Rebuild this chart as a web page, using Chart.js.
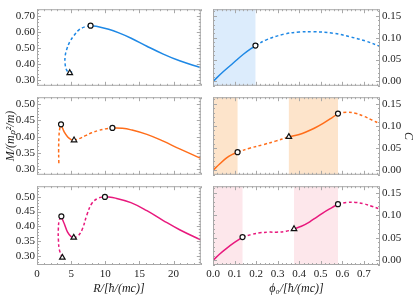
<!DOCTYPE html>
<html>
<head>
<meta charset="utf-8">
<script src="https://cdn.jsdelivr.net/npm/chart.js@4"></script>
<style>
  body { margin: 0; background: #fff; width: 418px; height: 299px; overflow: hidden; position: relative; }
  canvas { position: absolute; }
</style>
</head>
<body>
<canvas id="cA" width="206" height="87" style="left:0;top:4px"></canvas>
<canvas id="cB" width="212" height="87" style="left:206px;top:4px"></canvas>
<canvas id="cC" width="206" height="88" style="left:0;top:92px"></canvas>
<canvas id="cD" width="212" height="88" style="left:206px;top:92px"></canvas>
<canvas id="cE" width="206" height="118" style="left:0;top:181px"></canvas>
<canvas id="cF" width="212" height="118" style="left:206px;top:181px"></canvas>
<script>
// tick labels
const rTicks = [0, 5, 10, 15, 20];
const phiTicks = [0, 0.1, 0.2, 0.3, 0.4, 0.5, 0.6, 0.7];
const mTicksTop = [0.30, 0.40, 0.50, 0.60, 0.70];
const mTicks = [0.30, 0.35, 0.40, 0.45, 0.50];
const cTicks = [0, 0.05, 0.10, 0.15];

// top row (blue) - mass vs radius
const aDashR = [5.15, 4.8, 4.35, 4.12, 4.12, 4.35, 4.8, 5.45, 6.15, 7.0, 7.85];
const aDashM = [0.352, 0.344, 0.362, 0.400, 0.447, 0.490, 0.538, 0.579, 0.613, 0.632, 0.639];
const aSolidR = [7.85, 9.0, 10.5, 12.0, 13.8, 16.1, 18.5, 20.9, 24];
const aSolidM = [0.639, 0.633, 0.617, 0.594, 0.561, 0.511, 0.462, 0.420, 0.377];
const aCircR = [7.85], aCircM = [0.639];
const aTriR = [4.8], aTriM = [0.344];

// top row (blue) - compactness vs phi0
const bShade = [[0, 0.197]];
const bSolidP = [0, 0.047, 0.094, 0.141, 0.197];
const bSolidC = [0, 0.022, 0.042, 0.062, 0.082];
const bDashP = [0.197, 0.25, 0.33, 0.40, 0.464, 0.56, 0.635, 0.71, 0.775];
const bDashC = [0.082, 0.0955, 0.108, 0.1128, 0.1135, 0.110, 0.102, 0.092, 0.080];
const bCircP = [0.197], bCircC = [0.082];

// middle row (orange) - mass vs radius
const cDash1R = [3.2, 3.17, 3.22, 3.33, 3.52];
const cDash1M = [0.318, 0.36, 0.40, 0.425, 0.438];
const cSolid1R = [3.52, 3.75, 4.0, 4.5, 5.0, 5.43];
const cSolid1M = [0.438, 0.426, 0.414, 0.399, 0.391, 0.389];
const cDash2R = [5.43, 6.2, 7.1, 8.0, 9.0, 10.0, 11.05];
const cDash2M = [0.389, 0.394, 0.403, 0.412, 0.419, 0.424, 0.427];
const cSolid2R = [11.05, 12.5, 13.8, 16.1, 18.5, 20.9, 24];
const cSolid2M = [0.427, 0.426, 0.421, 0.407, 0.386, 0.362, 0.333];
const cCircR = [3.52, 11.05], cCircM = [0.438, 0.427];
const cTriR = [5.43], cTriM = [0.389];

// middle row (orange) - compactness vs phi0
const dShade = [[0, 0.114], [0.352, 0.58]];
const dSolid1P = [0, 0.032, 0.063, 0.09, 0.114];
const dSolid1C = [0, 0.015, 0.028, 0.036, 0.041];
const dDash1P = [0.114, 0.17, 0.233, 0.29, 0.352];
const dDash1C = [0.041, 0.050, 0.058, 0.066, 0.0757];
const dSolid2P = [0.352, 0.40, 0.434, 0.47, 0.511, 0.55, 0.58];
const dSolid2C = [0.0757, 0.081, 0.087, 0.095, 0.106, 0.118, 0.128];
const dDash2P = [0.58, 0.62, 0.66, 0.70, 0.74, 0.775];
const dDash2C = [0.128, 0.131, 0.129, 0.122, 0.113, 0.105];
const dCircP = [0.114, 0.58], dCircC = [0.041, 0.128];
const dTriP = [0.352], dTriC = [0.0757];

// bottom row (pink) - mass vs radius
const eDash1R = [3.71, 3.29, 3.14, 3.12, 3.25, 3.57];
const eDash1M = [0.296, 0.321, 0.354, 0.387, 0.42, 0.434];
const eSolid1R = [3.57, 3.8, 4.0, 4.48, 5.0, 5.38];
const eSolid1M = [0.434, 0.42, 0.409, 0.381, 0.366, 0.363];
const eDash2R = [5.38, 6.0, 6.62, 7.33, 8.05, 9.0, 9.95];
const eDash2M = [0.363, 0.368, 0.39, 0.44, 0.478, 0.495, 0.50];
const eSolid2R = [9.95, 11.5, 13.76, 16.1, 18.5, 20.9, 24];
const eSolid2M = [0.50, 0.495, 0.48, 0.453, 0.42, 0.389, 0.355];
const eCircR = [3.57, 9.95], eCircM = [0.434, 0.499];
const eTriR = [3.71, 5.38], eTriM = [0.296, 0.363];

// bottom row (pink) - compactness vs phi0
const fShade = [[0, 0.137], [0.376, 0.58]];
const fSolid1P = [0, 0.03, 0.063, 0.1, 0.137];
const fSolid1C = [0, 0.014, 0.027, 0.040, 0.052];
const fDash1P = [0.137, 0.18, 0.218, 0.26, 0.295, 0.34, 0.376];
const fDash1C = [0.052, 0.058, 0.0615, 0.063, 0.063, 0.065, 0.070];
const fSolid2P = [0.376, 0.41, 0.449, 0.48, 0.511, 0.55, 0.58];
const fSolid2C = [0.070, 0.076, 0.086, 0.096, 0.106, 0.117, 0.125];
const fDash2P = [0.58, 0.62, 0.66, 0.70, 0.74, 0.775];
const fDash2C = [0.125, 0.129, 0.129, 0.126, 0.120, 0.114];
const fCircP = [0.137, 0.58], fCircC = [0.052, 0.125];
const fTriP = [0.376], fTriC = [0.070];

const BLUE = '#1e88e5', ORANGE = '#ff6d1a', PINK = '#e8197d';
const tickFont = { family: 'Liberation Serif', size: 11 };
const titleFont = { family: 'Liberation Serif', size: 12, style: 'italic' };

const pts = (xs, ys) => xs.map((x, i) => ({ x, y: ys[i] }));

function line(xs, ys, color, dashed) {
  return { data: pts(xs, ys), showLine: true, borderColor: color, borderWidth: 1.5,
    borderDash: dashed ? [3, 2.5] : [], pointRadius: 0, tension: 0.4, order: 1 };
}
function marks(xs, ys, style) {
  return { data: pts(xs, ys), showLine: false, pointStyle: style, pointRadius: style === 'triangle' ? 3.2 : 2.5,
    pointBackgroundColor: '#fff', pointBorderColor: '#111', pointBorderWidth: 1.2, order: 0 };
}

// shaded bands + Mathematica-like frame with inward ticks
const framePlugin = {
  id: 'frame',
  beforeDatasetsDraw(chart, args, opts) {
    const { ctx, chartArea: a, scales: { x } } = chart;
    ctx.save();
    ctx.fillStyle = opts.shadeColor || 'transparent';
    (opts.shade || []).forEach(([x0, x1]) => {
      const p0 = x.getPixelForValue(x0), p1 = x.getPixelForValue(x1);
      ctx.fillRect(p0, a.top, p1 - p0, a.bottom - a.top);
    });
    ctx.restore();
  },
  afterDraw(chart, args, opts) {
    const { ctx, chartArea: a, scales: { x, y } } = chart;
    ctx.save();
    ctx.strokeStyle = '#a8a8a8';
    ctx.lineWidth = 1;
    ctx.strokeRect(a.left + 0.5, a.top + 0.5, a.width - 1, a.height - 1);
    const each = (s, major, minor, fn) => {
      for (let i = Math.ceil(s.min / minor - 1e-9); i <= Math.floor(s.max / minor + 1e-9); i++) {
        const v = i * minor;
        const isMajor = Math.abs(v / major - Math.round(v / major)) < 1e-6;
        fn(Math.round(s.getPixelForValue(v)) + 0.5, isMajor ? 4 : 2);
      }
    };
    ctx.beginPath();
    each(x, opts.xMajor, opts.xMinor, (p, len) => {
      ctx.moveTo(p, a.bottom); ctx.lineTo(p, a.bottom - len);
      ctx.moveTo(p, a.top); ctx.lineTo(p, a.top + len);
    });
    each(y, opts.yMajor, opts.yMinor, (p, len) => {
      ctx.moveTo(a.left, p); ctx.lineTo(a.left + len, p);
      ctx.moveTo(a.right, p); ctx.lineTo(a.right - len, p);
    });
    ctx.stroke();
    ctx.restore();
  }
};

function createChart(id, o) {
  const left = o.side === 'left';
  new Chart(document.getElementById(id), {
    type: 'scatter',
    data: { datasets: o.datasets },
    options: {
      responsive: false, animation: false, events: [],
      layout: { padding: { top: 4, bottom: o.showX ? 0 : 4, left: left ? 0 : 7, right: left ? 2 : 0 } },
      plugins: { legend: { display: false }, tooltip: { enabled: false },
        frame: { shade: o.shade, shadeColor: o.shadeColor, xMajor: o.xMajor, xMinor: o.xMinor, yMajor: o.yMajor, yMinor: o.yMinor } },
      scales: {
        x: {
          type: 'linear', min: o.xMin, max: o.xMax, display: o.showX,
          afterBuildTicks: s => { s.ticks = o.xTicks.map(v => ({ value: v })); },
          afterFit: s => { s.height = o.showX ? 34 : 0; s.paddingLeft = 0; s.paddingRight = 0; },
          grid: { display: false, drawTicks: false }, border: { display: false },
          ticks: { font: tickFont, color: '#222', padding: 3, autoSkip: false, maxRotation: 0,
            callback: v => v.toFixed(o.xDec) },
          title: { display: !!o.xTitle, text: o.xTitle, font: titleFont, color: '#222', padding: { top: 0, bottom: 3 } }
        },
        y: {
          type: 'linear', position: o.side, min: o.yMin, max: o.yMax,
          afterBuildTicks: s => { s.ticks = o.yTicks.map(v => ({ value: v })); },
          afterFit: s => { s.width = left ? 37 : 38; s.paddingTop = 0; s.paddingBottom = 0; },
          grid: { display: false, drawTicks: false }, border: { display: false },
          ticks: { font: tickFont, color: '#222', padding: 2, autoSkip: false, callback: v => v.toFixed(2) },
          title: { display: !!o.yTitle, text: o.yTitle, font: titleFont, color: '#222', padding: { top: left ? 4 : 3, bottom: 0 } }
        }
      }
    },
    plugins: [framePlugin]
  });
}

const rAxis = { side: 'left', xMin: 0, xMax: 24, xTicks: rTicks, xDec: 0, xMajor: 5, xMinor: 1 };
const pAxis = { side: 'right', xMin: 0, xMax: 0.775, xTicks: phiTicks, xDec: 1, xMajor: 0.1, xMinor: 0.02,
  yMin: -0.01, yMax: 0.165, yTicks: cTicks, yMajor: 0.05, yMinor: 0.01 };

createChart('cA', { ...rAxis, showX: false, yMin: 0.264, yMax: 0.742, yTicks: mTicksTop, yMajor: 0.1, yMinor: 0.02,
  datasets: [marks(aCircR, aCircM, 'circle'), marks(aTriR, aTriM, 'triangle'),
    line(aDashR, aDashM, BLUE, true), line(aSolidR, aSolidM, BLUE, false)] });

createChart('cB', { ...pAxis, showX: false, shade: bShade, shadeColor: '#dcecfc',
  datasets: [marks(bCircP, bCircC, 'circle'),
    line(bSolidP, bSolidC, BLUE, false), line(bDashP, bDashC, BLUE, true)] });

createChart('cC', { ...rAxis, showX: false, yMin: 0.282, yMax: 0.522, yTicks: mTicks, yMajor: 0.05, yMinor: 0.01,
  yTitle: 'M/(mₚ²/m)',
  datasets: [marks(cCircR, cCircM, 'circle'), marks(cTriR, cTriM, 'triangle'),
    line(cDash1R, cDash1M, ORANGE, true), line(cSolid1R, cSolid1M, ORANGE, false),
    line(cDash2R, cDash2M, ORANGE, true), line(cSolid2R, cSolid2M, ORANGE, false)] });

createChart('cD', { ...pAxis, showX: false, shade: dShade, shadeColor: '#fde4cb', yTitle: 'C',
  datasets: [marks(dCircP, dCircC, 'circle'), marks(dTriP, dTriC, 'triangle'),
    line(dSolid1P, dSolid1C, ORANGE, false), line(dDash1P, dDash1C, ORANGE, true),
    line(dSolid2P, dSolid2C, ORANGE, false), line(dDash2P, dDash2C, ORANGE, true)] });

createChart('cE', { ...rAxis, showX: true, xTitle: 'R/[ħ/(mc)]', yMin: 0.271, yMax: 0.535, yTicks: mTicks, yMajor: 0.05, yMinor: 0.01,
  datasets: [marks(eCircR, eCircM, 'circle'), marks(eTriR, eTriM, 'triangle'),
    line(eDash1R, eDash1M, PINK, true), line(eSolid1R, eSolid1M, PINK, false),
    line(eDash2R, eDash2M, PINK, true), line(eSolid2R, eSolid2M, PINK, false)] });

createChart('cF', { ...pAxis, showX: true, xTitle: 'ϕ₀/[ħ/(mc)]', shade: fShade, shadeColor: '#fde7eb',
  datasets: [marks(fCircP, fCircC, 'circle'), marks(fTriP, fTriC, 'triangle'),
    line(fSolid1P, fSolid1C, PINK, false), line(fDash1P, fDash1C, PINK, true),
    line(fSolid2P, fSolid2C, PINK, false), line(fDash2P, fDash2C, PINK, true)] });
</script>
</body>
</html>
